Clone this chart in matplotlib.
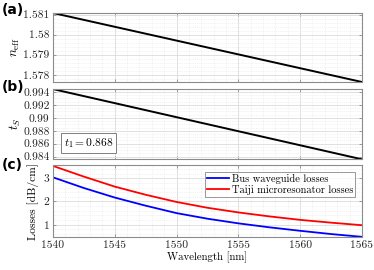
import matplotlib
matplotlib.use("Agg")
import matplotlib.pyplot as plt
from matplotlib.ticker import MultipleLocator, FixedLocator
import numpy as np

# ---- data ----
wl_lin = [1540, 1565]
neff = [1.58108, 1.57764]
ts = [0.99442, 0.98360]

wl = [1540, 1542.5, 1545, 1547.5, 1550, 1552.5, 1555, 1557.5, 1560, 1562.5, 1565]
bus_loss = [3.04, 2.58, 2.17, 1.82, 1.50, 1.26, 1.06, 0.89, 0.74, 0.60, 0.48]
taiji_loss = [3.53, 3.07, 2.64, 2.29, 1.98, 1.73, 1.53, 1.36, 1.21, 1.09, 0.98]

xticks = [1540, 1545, 1550, 1555, 1560, 1565]
xticklabels = ["1540", "1545", "1550", "1555", "1560", "1565"]
a_ticks = [1.578, 1.579, 1.58, 1.581]
a_labels = ["1.578", "1.579", "1.58", "1.581"]
b_ticks = [0.984, 0.986, 0.988, 0.99, 0.992, 0.994]
b_labels = ["0.984", "0.986", "0.988", "0.99", "0.992", "0.994"]
c_ticks = [1, 2, 3]
c_labels = ["1", "2", "3"]

plt.rcParams['mathtext.fontset'] = 'cm'
plt.rcParams['font.family'] = 'serif'
plt.rcParams['font.serif'] = ['cmr10', 'DejaVu Serif']
plt.rcParams['axes.unicode_minus'] = False

fig = plt.figure(figsize=(3.74, 2.70), dpi=100)
L, W = 0.1417, 0.826
ax_a = fig.add_axes([L, 0.6963, W, 0.2556])
ax_b = fig.add_axes([L, 0.410, W, 0.2600])
ax_c = fig.add_axes([L, 0.1211, W, 0.2678])

spine_col = '#8c8c8c'
fs = 8.3

def style(ax, yt, yl, yminor):
    ax.set_xlim(1540, 1565)
    ax.xaxis.set_major_locator(FixedLocator(xticks))
    ax.xaxis.set_minor_locator(MultipleLocator(1))
    ax.yaxis.set_major_locator(FixedLocator(yt))
    ax.set_yticklabels(yl)
    ax.yaxis.set_minor_locator(MultipleLocator(yminor))
    ax.grid(which='major', color='#dcdcdc', lw=0.6, ls='-')
    ax.grid(which='minor', color='#e6e6e6', lw=0.5, ls=':')
    ax.set_axisbelow(True)
    ax.tick_params(which='both', direction='in', top=True, right=True,
                   colors=spine_col, labelcolor='#262626', labelsize=fs)
    ax.tick_params(which='major', length=2.5, width=0.6, pad=2.5)
    ax.tick_params(which='minor', length=0)
    for s in ax.spines.values():
        s.set_color(spine_col)
        s.set_linewidth(0.8)

# (a)
ax_a.plot(wl_lin, neff, color='black', lw=1.4)
ax_a.set_ylim(neff[1], neff[0])
style(ax_a, a_ticks, a_labels, 0.0002)
ax_a.set_xticklabels([])
ax_a.set_ylabel(r'$n_{\rm eff}$', fontsize=fs + 1, labelpad=1)

# (b)
ax_b.plot(wl_lin, ts, color='black', lw=1.4)
ax_b.set_ylim(ts[1], ts[0])
style(ax_b, b_ticks, b_labels, 0.0005)
ax_b.set_xticklabels([])
ax_b.set_ylabel(r'$t_S$', fontsize=fs + 1, labelpad=0)
ax_b.text(0.035, 0.13, r'$t_1 = 0.868$', transform=ax_b.transAxes,
          fontsize=fs, va='bottom', ha='left',
          bbox=dict(boxstyle='square,pad=0.25', fc='white', ec='#7f7f7f', lw=0.7))

# (c)
ax_c.plot(wl, bus_loss, color='#0000ff', lw=1.3, label='Bus waveguide losses')
ax_c.plot(wl, taiji_loss, color='#ff0000', lw=1.3, label='Taiji microresonator losses')
ax_c.set_ylim(0.46, 3.57)
style(ax_c, c_ticks, c_labels, 0.2)
ax_c.set_xticklabels(xticklabels)
ax_c.set_ylabel('Losses [dB/cm]', fontsize=fs, labelpad=3)
ax_c.set_xlabel('Wavelength [nm]', fontsize=fs - 0.5, labelpad=1)
leg = ax_c.legend(loc='upper right', fontsize=7.5, frameon=True, fancybox=False,
                  handlelength=2.1, handletextpad=0.3, borderpad=0.2,
                  labelspacing=0.1, borderaxespad=0.65)
leg.get_frame().set_edgecolor('#7f7f7f')
leg.get_frame().set_linewidth(0.7)

fig.text(0.005, 0.99, '(a)', fontsize=10, fontweight='bold', family='DejaVu Sans', va='top')
fig.text(0.005, 0.705, '(b)', fontsize=10, fontweight='bold', family='DejaVu Sans', va='top')
fig.text(0.005, 0.415, '(c)', fontsize=10, fontweight='bold', family='DejaVu Sans', va='top')

fig.savefig('out.png', dpi=100)
